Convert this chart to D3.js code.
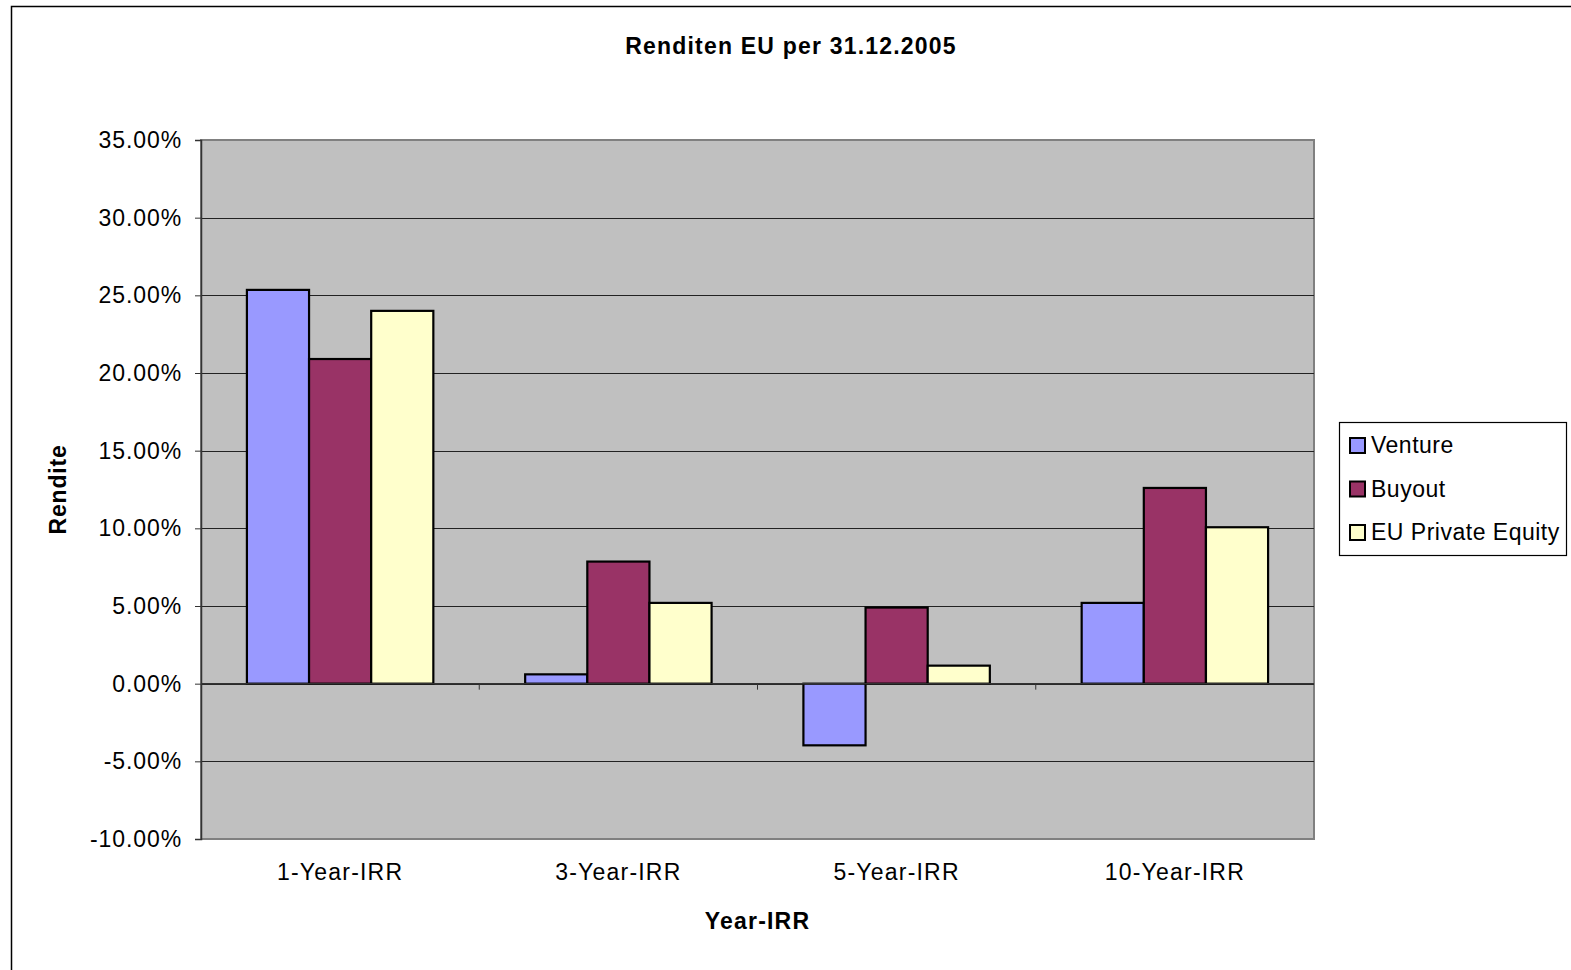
<!DOCTYPE html>
<html>
<head>
<meta charset="utf-8">
<script src="https://cdn.jsdelivr.net/npm/d3@7"></script>
<style>
  html, body { margin: 0; padding: 0; background: #fff; }
  svg { display: block; font-family: "Liberation Sans", Arial, sans-serif; }
</style>
</head>
<body>
<svg id="chart" width="1571" height="970"></svg>
<script>
// Returns per horizon (IRR), in percent
const categories = ["1-Year-IRR", "3-Year-IRR", "5-Year-IRR", "10-Year-IRR"];
const seriesNames = ["Venture", "Buyout", "EU Private Equity"];
const venture = [25.35, 0.6, -3.97, 5.2];
const buyout = [20.9, 7.86, 4.9, 12.6];
const privateEquity = [24.0, 5.2, 1.16, 10.07];
const seriesColors = ["#9999FF", "#993366", "#FFFFCC"];
const yTicks = [-10, -5, 0, 5, 10, 15, 20, 25, 30, 35];

const seriesValues = [venture, buyout, privateEquity];

const svg = d3.select("#chart");

// Outer chart frame
svg.append("rect")
  .attr("x", 11.5).attr("y", 6.5)
  .attr("width", 1600).attr("height", 1000)
  .attr("fill", "#fff").attr("stroke", "#000").attr("stroke-width", 1.5);

const plot = { left: 201, right: 1314, top: 140, bottom: 839 };

const y = d3.scaleLinear().domain([-10, 35]).range([plot.bottom, plot.top]);
const x0 = d3.scaleBand().domain(categories).range([plot.left, plot.right]).paddingInner(0).paddingOuter(0);
const groupWidth = x0.bandwidth() * 0.67;
const x1 = d3.scaleBand().domain(seriesNames).range([0, groupWidth]).padding(0);

// Plot area
svg.append("rect")
  .attr("x", plot.left).attr("y", plot.top)
  .attr("width", plot.right - plot.left).attr("height", plot.bottom - plot.top)
  .attr("fill", "#C0C0C0").attr("stroke", "#808080").attr("stroke-width", 2);

// Horizontal gridlines
svg.append("g").selectAll("line")
  .data(yTicks.filter(t => t !== -10 && t !== 35))
  .join("line")
  .attr("x1", plot.left).attr("x2", plot.right)
  .attr("y1", d => Math.round(y(d)) + 0.5).attr("y2", d => Math.round(y(d)) + 0.5)
  .attr("stroke", "#222").attr("stroke-width", 1);

// Bars
const groups = svg.append("g").selectAll("g")
  .data(categories)
  .join("g")
  .attr("transform", d => `translate(${x0(d) + (x0.bandwidth() - groupWidth) / 2},0)`);

groups.selectAll("rect")
  .data((c, i) => seriesNames.map((s, j) => ({ s, v: seriesValues[j][i], color: seriesColors[j] })))
  .join("rect")
  .attr("x", d => x1(d.s))
  .attr("width", x1.bandwidth())
  .attr("y", d => y(Math.max(0, d.v)))
  .attr("height", d => Math.abs(y(d.v) - y(0)))
  .attr("fill", d => d.color)
  .attr("stroke", "#000").attr("stroke-width", 2.2);

// Y axis
const yAxis = svg.append("g")
  .attr("transform", `translate(${plot.left},0)`)
  .call(d3.axisLeft(y).tickValues(yTicks).tickSize(6).tickPadding(13)
    .tickFormat(d => d3.format(".2f")(d).replace("\u2212", "-") + "%"));
yAxis.select(".domain").attr("stroke", "#333").attr("stroke-width", 1.5);
yAxis.selectAll(".tick line").attr("stroke", "#333");
yAxis.selectAll("text")
  .attr("font-size", 23).attr("fill", "#000")
  .attr("letter-spacing", "0.9px")
  .attr("font-family", "'Liberation Sans', Arial, sans-serif");

// X axis at zero
const xAxis = svg.append("g")
  .attr("transform", `translate(0,${y(0)})`);
xAxis.append("line")
  .attr("x1", plot.left).attr("x2", plot.right)
  .attr("stroke", "#333").attr("stroke-width", 1.5);
xAxis.selectAll(".tk")
  .data(categories.slice(1))
  .join("line")
  .attr("class", "tk")
  .attr("x1", d => x0(d)).attr("x2", d => x0(d))
  .attr("y1", 0).attr("y2", 6)
  .attr("stroke", "#333");

// Category labels below the plot
svg.append("g").selectAll("text")
  .data(categories)
  .join("text")
  .attr("x", d => x0(d) + x0.bandwidth() / 2)
  .attr("y", 880)
  .attr("text-anchor", "middle")
  .attr("font-size", 23)
  .attr("letter-spacing", "1.2px")
  .text(d => d);

// Titles
svg.append("text")
  .attr("x", 791).attr("y", 54)
  .attr("text-anchor", "middle")
  .attr("font-size", 23).attr("font-weight", "bold")
  .attr("letter-spacing", "1.2px")
  .text("Renditen EU per 31.12.2005");

svg.append("text")
  .attr("x", (plot.left + plot.right) / 2).attr("y", 929)
  .attr("text-anchor", "middle")
  .attr("font-size", 23).attr("font-weight", "bold")
  .attr("letter-spacing", "1.2px")
  .text("Year-IRR");

svg.append("text")
  .attr("transform", `translate(66,${(plot.top + plot.bottom) / 2}) rotate(-90)`)
  .attr("text-anchor", "middle")
  .attr("font-size", 23).attr("font-weight", "bold")
  .attr("letter-spacing", "0.8px")
  .text("Rendite");

// Legend
const legend = svg.append("g");
legend.append("rect")
  .attr("x", 1339.5).attr("y", 422.5)
  .attr("width", 1566 - 1339).attr("height", 555 - 422)
  .attr("fill", "#fff").attr("stroke", "#000").attr("stroke-width", 1.2);

const items = legend.selectAll("g.item")
  .data(seriesNames)
  .join("g")
  .attr("class", "item")
  .attr("transform", (d, i) => `translate(1350,${445 + i * 43.5})`);
items.append("rect")
  .attr("x", 0).attr("y", -7).attr("width", 15).attr("height", 15)
  .attr("fill", (d, i) => seriesColors[i])
  .attr("stroke", "#000").attr("stroke-width", 2);
items.append("text")
  .attr("x", 21).attr("y", 8)
  .attr("font-size", 23)
  .attr("letter-spacing", "0.5px")
  .text(d => d);
</script>
</body>
</html>
